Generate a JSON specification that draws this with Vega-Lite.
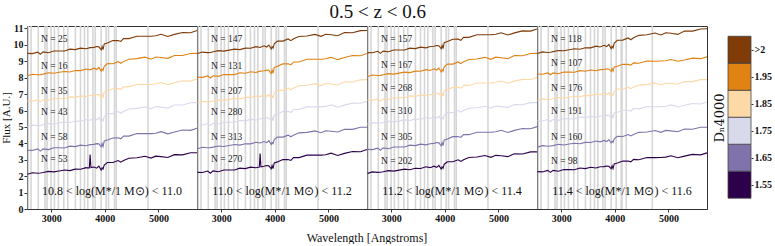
{
"$schema":"https://vega.github.io/schema/vega-lite/v6.json",
"padding":{"left":0,"top":3,"right":0,"bottom":0},
"title":{"text":"0.5 < z < 0.6","font":"Liberation Serif","fontSize":19,"fontWeight":"normal","anchor":"middle","offset":1,"dx":-8,"color":"#111"},
"config":{"font":"Liberation Serif","facet":{"spacing":0},"view":{"stroke":"#333"},"axis":{"labelFont":"Liberation Serif","labelFontWeight":"bold","labelFontSize":10,"labelColor":"#111","labelOverlap":false,"titleFont":"Liberation Serif","titleFontWeight":"normal","titleFontSize":11,"titleColor":"#111","grid":false,"tickSize":3,"tickColor":"#333","domainColor":"#333"}},
"spacing":3,
"hconcat":[
{
"data":{"values":[
{"p":1,"r":2575},{"p":1,"r":2625},{"p":1,"r":2761},{"p":1,"r":2886},{"p":1,"r":2924},{"p":1,"r":2999},{"p":1,"r":3061},{"p":1,"r":3136},{"p":1,"r":3236},{"p":1,"r":3311},{"p":1,"r":3453},{"p":1,"r":3547},{"p":1,"r":3622},{"p":1,"r":3684},{"p":1,"r":3778},{"p":1,"r":3821},{"p":1,"r":3933},{"p":1,"r":4026},{"p":1,"r":4070},{"p":1,"r":4182},{"p":1,"r":4214},{"p":1,"r":4806},
{"p":2,"r":2575},{"p":2,"r":2625},{"p":2,"r":2761},{"p":2,"r":2886},{"p":2,"r":2924},{"p":2,"r":2999},{"p":2,"r":3061},{"p":2,"r":3136},{"p":2,"r":3236},{"p":2,"r":3311},{"p":2,"r":3453},{"p":2,"r":3547},{"p":2,"r":3622},{"p":2,"r":3684},{"p":2,"r":3778},{"p":2,"r":3821},{"p":2,"r":3933},{"p":2,"r":4026},{"p":2,"r":4070},{"p":2,"r":4182},{"p":2,"r":4214},{"p":2,"r":4806},
{"p":3,"r":2575},{"p":3,"r":2625},{"p":3,"r":2761},{"p":3,"r":2886},{"p":3,"r":2924},{"p":3,"r":2999},{"p":3,"r":3061},{"p":3,"r":3136},{"p":3,"r":3236},{"p":3,"r":3311},{"p":3,"r":3453},{"p":3,"r":3547},{"p":3,"r":3622},{"p":3,"r":3684},{"p":3,"r":3778},{"p":3,"r":3821},{"p":3,"r":3933},{"p":3,"r":4026},{"p":3,"r":4070},{"p":3,"r":4182},{"p":3,"r":4214},{"p":3,"r":4806},
{"p":4,"r":2575},{"p":4,"r":2625},{"p":4,"r":2761},{"p":4,"r":2886},{"p":4,"r":2924},{"p":4,"r":2999},{"p":4,"r":3061},{"p":4,"r":3136},{"p":4,"r":3236},{"p":4,"r":3311},{"p":4,"r":3453},{"p":4,"r":3547},{"p":4,"r":3622},{"p":4,"r":3684},{"p":4,"r":3778},{"p":4,"r":3821},{"p":4,"r":3933},{"p":4,"r":4026},{"p":4,"r":4120},{"p":4,"r":4135},{"p":4,"r":4214},{"p":4,"r":4700},

{"p":1,"c":">2","w":2560,"f":9.48},{"p":1,"c":">2","w":2650,"f":9.47},{"p":1,"c":">2","w":2750,"f":9.56},{"p":1,"c":">2","w":2800,"f":9.43},{"p":1,"c":">2","w":2850,"f":9.57},{"p":1,"c":">2","w":2950,"f":9.52},{"p":1,"c":">2","w":3050,"f":9.63},{"p":1,"c":">2","w":3150,"f":9.63},{"p":1,"c":">2","w":3250,"f":9.63},{"p":1,"c":">2","w":3350,"f":9.74},{"p":1,"c":">2","w":3450,"f":9.71},{"p":1,"c":">2","w":3550,"f":9.80},{"p":1,"c":">2","w":3650,"f":9.76},{"p":1,"c":">2","w":3727,"f":9.83},{"p":1,"c":">2","w":3800,"f":9.85},{"p":1,"c":">2","w":3850,"f":9.90},{"p":1,"c":">2","w":3890,"f":9.88},{"p":1,"c":">2","w":3934,"f":9.70},{"p":1,"c":">2","w":3950,"f":9.90},{"p":1,"c":">2","w":3968,"f":9.71},{"p":1,"c":">2","w":3990,"f":10.06},{"p":1,"c":">2","w":4050,"f":10.12},{"p":1,"c":">2","w":4150,"f":10.26},{"p":1,"c":">2","w":4250,"f":10.27},{"p":1,"c":">2","w":4300,"f":10.21},{"p":1,"c":">2","w":4350,"f":10.38},{"p":1,"c":">2","w":4450,"f":10.38},{"p":1,"c":">2","w":4600,"f":10.53},{"p":1,"c":">2","w":4750,"f":10.53},{"p":1,"c":">2","w":4861,"f":10.53},{"p":1,"c":">2","w":4950,"f":10.56},{"p":1,"c":">2","w":5050,"f":10.65},{"p":1,"c":">2","w":5175,"f":10.51},{"p":1,"c":">2","w":5300,"f":10.64},{"p":1,"c":">2","w":5450,"f":10.75},{"p":1,"c":">2","w":5600,"f":10.74},{"p":1,"c":">2","w":5720,"f":10.87},
{"p":1,"c":"1.95","w":2560,"f":8.12},{"p":1,"c":"1.95","w":2650,"f":8.21},{"p":1,"c":"1.95","w":2750,"f":8.18},{"p":1,"c":"1.95","w":2800,"f":8.19},{"p":1,"c":"1.95","w":2850,"f":8.22},{"p":1,"c":"1.95","w":2950,"f":8.30},{"p":1,"c":"1.95","w":3050,"f":8.27},{"p":1,"c":"1.95","w":3150,"f":8.33},{"p":1,"c":"1.95","w":3250,"f":8.38},{"p":1,"c":"1.95","w":3350,"f":8.35},{"p":1,"c":"1.95","w":3450,"f":8.44},{"p":1,"c":"1.95","w":3550,"f":8.43},{"p":1,"c":"1.95","w":3650,"f":8.53},{"p":1,"c":"1.95","w":3727,"f":8.48},{"p":1,"c":"1.95","w":3800,"f":8.58},{"p":1,"c":"1.95","w":3850,"f":8.50},{"p":1,"c":"1.95","w":3890,"f":8.63},{"p":1,"c":"1.95","w":3934,"f":8.39},{"p":1,"c":"1.95","w":3950,"f":8.53},{"p":1,"c":"1.95","w":3968,"f":8.44},{"p":1,"c":"1.95","w":3990,"f":8.70},{"p":1,"c":"1.95","w":4050,"f":8.86},{"p":1,"c":"1.95","w":4150,"f":8.85},{"p":1,"c":"1.95","w":4250,"f":8.98},{"p":1,"c":"1.95","w":4300,"f":8.88},{"p":1,"c":"1.95","w":4350,"f":8.98},{"p":1,"c":"1.95","w":4450,"f":9.12},{"p":1,"c":"1.95","w":4600,"f":9.16},{"p":1,"c":"1.95","w":4750,"f":9.25},{"p":1,"c":"1.95","w":4861,"f":9.13},{"p":1,"c":"1.95","w":4950,"f":9.26},{"p":1,"c":"1.95","w":5050,"f":9.23},{"p":1,"c":"1.95","w":5175,"f":9.18},{"p":1,"c":"1.95","w":5300,"f":9.35},{"p":1,"c":"1.95","w":5450,"f":9.35},{"p":1,"c":"1.95","w":5600,"f":9.47},{"p":1,"c":"1.95","w":5720,"f":9.48},
{"p":1,"c":"1.85","w":2560,"f":6.58},{"p":1,"c":"1.85","w":2650,"f":6.57},{"p":1,"c":"1.85","w":2750,"f":6.66},{"p":1,"c":"1.85","w":2800,"f":6.53},{"p":1,"c":"1.85","w":2850,"f":6.66},{"p":1,"c":"1.85","w":2950,"f":6.62},{"p":1,"c":"1.85","w":3050,"f":6.73},{"p":1,"c":"1.85","w":3150,"f":6.73},{"p":1,"c":"1.85","w":3250,"f":6.72},{"p":1,"c":"1.85","w":3350,"f":6.83},{"p":1,"c":"1.85","w":3450,"f":6.80},{"p":1,"c":"1.85","w":3550,"f":6.89},{"p":1,"c":"1.85","w":3650,"f":6.85},{"p":1,"c":"1.85","w":3727,"f":6.92},{"p":1,"c":"1.85","w":3800,"f":6.94},{"p":1,"c":"1.85","w":3850,"f":6.98},{"p":1,"c":"1.85","w":3890,"f":6.97},{"p":1,"c":"1.85","w":3934,"f":6.79},{"p":1,"c":"1.85","w":3950,"f":6.99},{"p":1,"c":"1.85","w":3968,"f":6.80},{"p":1,"c":"1.85","w":3990,"f":7.14},{"p":1,"c":"1.85","w":4050,"f":7.20},{"p":1,"c":"1.85","w":4150,"f":7.33},{"p":1,"c":"1.85","w":4250,"f":7.34},{"p":1,"c":"1.85","w":4300,"f":7.28},{"p":1,"c":"1.85","w":4350,"f":7.44},{"p":1,"c":"1.85","w":4450,"f":7.44},{"p":1,"c":"1.85","w":4600,"f":7.60},{"p":1,"c":"1.85","w":4750,"f":7.59},{"p":1,"c":"1.85","w":4861,"f":7.59},{"p":1,"c":"1.85","w":4950,"f":7.62},{"p":1,"c":"1.85","w":5050,"f":7.71},{"p":1,"c":"1.85","w":5175,"f":7.58},{"p":1,"c":"1.85","w":5300,"f":7.69},{"p":1,"c":"1.85","w":5450,"f":7.81},{"p":1,"c":"1.85","w":5600,"f":7.79},{"p":1,"c":"1.85","w":5720,"f":7.92},
{"p":1,"c":"1.75","w":2560,"f":5.02},{"p":1,"c":"1.75","w":2650,"f":5.11},{"p":1,"c":"1.75","w":2750,"f":5.08},{"p":1,"c":"1.75","w":2800,"f":5.09},{"p":1,"c":"1.75","w":2850,"f":5.13},{"p":1,"c":"1.75","w":2950,"f":5.21},{"p":1,"c":"1.75","w":3050,"f":5.18},{"p":1,"c":"1.75","w":3150,"f":5.24},{"p":1,"c":"1.75","w":3250,"f":5.30},{"p":1,"c":"1.75","w":3350,"f":5.27},{"p":1,"c":"1.75","w":3450,"f":5.36},{"p":1,"c":"1.75","w":3550,"f":5.35},{"p":1,"c":"1.75","w":3650,"f":5.45},{"p":1,"c":"1.75","w":3727,"f":5.41},{"p":1,"c":"1.75","w":3800,"f":5.51},{"p":1,"c":"1.75","w":3850,"f":5.43},{"p":1,"c":"1.75","w":3890,"f":5.56},{"p":1,"c":"1.75","w":3934,"f":5.31},{"p":1,"c":"1.75","w":3950,"f":5.46},{"p":1,"c":"1.75","w":3968,"f":5.36},{"p":1,"c":"1.75","w":3990,"f":5.64},{"p":1,"c":"1.75","w":4050,"f":5.81},{"p":1,"c":"1.75","w":4150,"f":5.81},{"p":1,"c":"1.75","w":4250,"f":5.94},{"p":1,"c":"1.75","w":4300,"f":5.83},{"p":1,"c":"1.75","w":4350,"f":5.95},{"p":1,"c":"1.75","w":4450,"f":6.09},{"p":1,"c":"1.75","w":4600,"f":6.13},{"p":1,"c":"1.75","w":4750,"f":6.23},{"p":1,"c":"1.75","w":4861,"f":6.11},{"p":1,"c":"1.75","w":4950,"f":6.24},{"p":1,"c":"1.75","w":5050,"f":6.21},{"p":1,"c":"1.75","w":5175,"f":6.15},{"p":1,"c":"1.75","w":5300,"f":6.34},{"p":1,"c":"1.75","w":5450,"f":6.34},{"p":1,"c":"1.75","w":5600,"f":6.47},{"p":1,"c":"1.75","w":5720,"f":6.48},
{"p":1,"c":"1.65","w":2560,"f":3.58},{"p":1,"c":"1.65","w":2650,"f":3.57},{"p":1,"c":"1.65","w":2750,"f":3.66},{"p":1,"c":"1.65","w":2800,"f":3.53},{"p":1,"c":"1.65","w":2850,"f":3.66},{"p":1,"c":"1.65","w":2950,"f":3.62},{"p":1,"c":"1.65","w":3050,"f":3.73},{"p":1,"c":"1.65","w":3150,"f":3.73},{"p":1,"c":"1.65","w":3250,"f":3.72},{"p":1,"c":"1.65","w":3350,"f":3.83},{"p":1,"c":"1.65","w":3450,"f":3.80},{"p":1,"c":"1.65","w":3550,"f":3.89},{"p":1,"c":"1.65","w":3650,"f":3.85},{"p":1,"c":"1.65","w":3727,"f":3.92},{"p":1,"c":"1.65","w":3800,"f":3.94},{"p":1,"c":"1.65","w":3850,"f":3.98},{"p":1,"c":"1.65","w":3890,"f":3.97},{"p":1,"c":"1.65","w":3934,"f":3.79},{"p":1,"c":"1.65","w":3950,"f":3.99},{"p":1,"c":"1.65","w":3968,"f":3.80},{"p":1,"c":"1.65","w":3990,"f":4.14},{"p":1,"c":"1.65","w":4050,"f":4.20},{"p":1,"c":"1.65","w":4150,"f":4.33},{"p":1,"c":"1.65","w":4250,"f":4.34},{"p":1,"c":"1.65","w":4300,"f":4.28},{"p":1,"c":"1.65","w":4350,"f":4.44},{"p":1,"c":"1.65","w":4450,"f":4.44},{"p":1,"c":"1.65","w":4600,"f":4.60},{"p":1,"c":"1.65","w":4750,"f":4.59},{"p":1,"c":"1.65","w":4861,"f":4.59},{"p":1,"c":"1.65","w":4950,"f":4.62},{"p":1,"c":"1.65","w":5050,"f":4.71},{"p":1,"c":"1.65","w":5175,"f":4.58},{"p":1,"c":"1.65","w":5300,"f":4.69},{"p":1,"c":"1.65","w":5450,"f":4.81},{"p":1,"c":"1.65","w":5600,"f":4.79},{"p":1,"c":"1.65","w":5720,"f":4.92},
{"p":1,"c":"1.55","w":2560,"f":2.12},{"p":1,"c":"1.55","w":2650,"f":2.21},{"p":1,"c":"1.55","w":2750,"f":2.18},{"p":1,"c":"1.55","w":2800,"f":2.19},{"p":1,"c":"1.55","w":2850,"f":2.22},{"p":1,"c":"1.55","w":2950,"f":2.29},{"p":1,"c":"1.55","w":3050,"f":2.26},{"p":1,"c":"1.55","w":3150,"f":2.32},{"p":1,"c":"1.55","w":3250,"f":2.38},{"p":1,"c":"1.55","w":3350,"f":2.34},{"p":1,"c":"1.55","w":3450,"f":2.43},{"p":1,"c":"1.55","w":3550,"f":2.42},{"p":1,"c":"1.55","w":3650,"f":2.52},{"p":1,"c":"1.55","w":3712,"f":2.50},{"p":1,"c":"1.55","w":3727,"f":3.32},{"p":1,"c":"1.55","w":3742,"f":2.52},{"p":1,"c":"1.55","w":3800,"f":2.56},{"p":1,"c":"1.55","w":3850,"f":2.49},{"p":1,"c":"1.55","w":3890,"f":2.61},{"p":1,"c":"1.55","w":3934,"f":2.38},{"p":1,"c":"1.55","w":3950,"f":2.51},{"p":1,"c":"1.55","w":3968,"f":2.43},{"p":1,"c":"1.55","w":3990,"f":2.68},{"p":1,"c":"1.55","w":4050,"f":2.83},{"p":1,"c":"1.55","w":4150,"f":2.83},{"p":1,"c":"1.55","w":4250,"f":2.95},{"p":1,"c":"1.55","w":4300,"f":2.85},{"p":1,"c":"1.55","w":4350,"f":2.95},{"p":1,"c":"1.55","w":4450,"f":3.09},{"p":1,"c":"1.55","w":4600,"f":3.12},{"p":1,"c":"1.55","w":4750,"f":3.21},{"p":1,"c":"1.55","w":4861,"f":3.10},{"p":1,"c":"1.55","w":4950,"f":3.22},{"p":1,"c":"1.55","w":5050,"f":3.19},{"p":1,"c":"1.55","w":5175,"f":3.14},{"p":1,"c":"1.55","w":5300,"f":3.31},{"p":1,"c":"1.55","w":5450,"f":3.30},{"p":1,"c":"1.55","w":5600,"f":3.43},{"p":1,"c":"1.55","w":5720,"f":3.43},

{"p":2,"c":">2","w":2560,"f":9.47},{"p":2,"c":">2","w":2650,"f":9.56},{"p":2,"c":">2","w":2750,"f":9.53},{"p":2,"c":">2","w":2800,"f":9.54},{"p":2,"c":">2","w":2850,"f":9.58},{"p":2,"c":">2","w":2950,"f":9.65},{"p":2,"c":">2","w":3050,"f":9.62},{"p":2,"c":">2","w":3150,"f":9.68},{"p":2,"c":">2","w":3250,"f":9.74},{"p":2,"c":">2","w":3350,"f":9.71},{"p":2,"c":">2","w":3450,"f":9.80},{"p":2,"c":">2","w":3550,"f":9.79},{"p":2,"c":">2","w":3650,"f":9.89},{"p":2,"c":">2","w":3727,"f":9.84},{"p":2,"c":">2","w":3800,"f":9.94},{"p":2,"c":">2","w":3850,"f":9.87},{"p":2,"c":">2","w":3890,"f":9.99},{"p":2,"c":">2","w":3934,"f":9.75},{"p":2,"c":">2","w":3950,"f":9.89},{"p":2,"c":">2","w":3968,"f":9.80},{"p":2,"c":">2","w":3990,"f":10.07},{"p":2,"c":">2","w":4050,"f":10.23},{"p":2,"c":">2","w":4150,"f":10.23},{"p":2,"c":">2","w":4250,"f":10.36},{"p":2,"c":">2","w":4300,"f":10.26},{"p":2,"c":">2","w":4350,"f":10.37},{"p":2,"c":">2","w":4450,"f":10.51},{"p":2,"c":">2","w":4600,"f":10.54},{"p":2,"c":">2","w":4750,"f":10.64},{"p":2,"c":">2","w":4861,"f":10.52},{"p":2,"c":">2","w":4950,"f":10.65},{"p":2,"c":">2","w":5050,"f":10.62},{"p":2,"c":">2","w":5175,"f":10.56},{"p":2,"c":">2","w":5300,"f":10.75},{"p":2,"c":">2","w":5450,"f":10.74},{"p":2,"c":">2","w":5600,"f":10.87},{"p":2,"c":">2","w":5720,"f":10.88},
{"p":2,"c":"1.95","w":2560,"f":8.03},{"p":2,"c":"1.95","w":2650,"f":8.02},{"p":2,"c":"1.95","w":2750,"f":8.11},{"p":2,"c":"1.95","w":2800,"f":7.98},{"p":2,"c":"1.95","w":2850,"f":8.12},{"p":2,"c":"1.95","w":2950,"f":8.08},{"p":2,"c":"1.95","w":3050,"f":8.19},{"p":2,"c":"1.95","w":3150,"f":8.19},{"p":2,"c":"1.95","w":3250,"f":8.19},{"p":2,"c":"1.95","w":3350,"f":8.30},{"p":2,"c":"1.95","w":3450,"f":8.27},{"p":2,"c":"1.95","w":3550,"f":8.36},{"p":2,"c":"1.95","w":3650,"f":8.32},{"p":2,"c":"1.95","w":3727,"f":8.40},{"p":2,"c":"1.95","w":3800,"f":8.42},{"p":2,"c":"1.95","w":3850,"f":8.46},{"p":2,"c":"1.95","w":3890,"f":8.45},{"p":2,"c":"1.95","w":3934,"f":8.26},{"p":2,"c":"1.95","w":3950,"f":8.47},{"p":2,"c":"1.95","w":3968,"f":8.27},{"p":2,"c":"1.95","w":3990,"f":8.63},{"p":2,"c":"1.95","w":4050,"f":8.70},{"p":2,"c":"1.95","w":4150,"f":8.84},{"p":2,"c":"1.95","w":4250,"f":8.85},{"p":2,"c":"1.95","w":4300,"f":8.78},{"p":2,"c":"1.95","w":4350,"f":8.96},{"p":2,"c":"1.95","w":4450,"f":8.96},{"p":2,"c":"1.95","w":4600,"f":9.12},{"p":2,"c":"1.95","w":4750,"f":9.12},{"p":2,"c":"1.95","w":4861,"f":9.12},{"p":2,"c":"1.95","w":4950,"f":9.15},{"p":2,"c":"1.95","w":5050,"f":9.24},{"p":2,"c":"1.95","w":5175,"f":9.10},{"p":2,"c":"1.95","w":5300,"f":9.23},{"p":2,"c":"1.95","w":5450,"f":9.35},{"p":2,"c":"1.95","w":5600,"f":9.34},{"p":2,"c":"1.95","w":5720,"f":9.47},
{"p":2,"c":"1.85","w":2560,"f":6.47},{"p":2,"c":"1.85","w":2650,"f":6.56},{"p":2,"c":"1.85","w":2750,"f":6.53},{"p":2,"c":"1.85","w":2800,"f":6.54},{"p":2,"c":"1.85","w":2850,"f":6.58},{"p":2,"c":"1.85","w":2950,"f":6.65},{"p":2,"c":"1.85","w":3050,"f":6.62},{"p":2,"c":"1.85","w":3150,"f":6.68},{"p":2,"c":"1.85","w":3250,"f":6.74},{"p":2,"c":"1.85","w":3350,"f":6.71},{"p":2,"c":"1.85","w":3450,"f":6.80},{"p":2,"c":"1.85","w":3550,"f":6.79},{"p":2,"c":"1.85","w":3650,"f":6.89},{"p":2,"c":"1.85","w":3727,"f":6.84},{"p":2,"c":"1.85","w":3800,"f":6.94},{"p":2,"c":"1.85","w":3850,"f":6.87},{"p":2,"c":"1.85","w":3890,"f":6.99},{"p":2,"c":"1.85","w":3934,"f":6.75},{"p":2,"c":"1.85","w":3950,"f":6.89},{"p":2,"c":"1.85","w":3968,"f":6.80},{"p":2,"c":"1.85","w":3990,"f":7.07},{"p":2,"c":"1.85","w":4050,"f":7.23},{"p":2,"c":"1.85","w":4150,"f":7.23},{"p":2,"c":"1.85","w":4250,"f":7.36},{"p":2,"c":"1.85","w":4300,"f":7.26},{"p":2,"c":"1.85","w":4350,"f":7.37},{"p":2,"c":"1.85","w":4450,"f":7.51},{"p":2,"c":"1.85","w":4600,"f":7.54},{"p":2,"c":"1.85","w":4750,"f":7.64},{"p":2,"c":"1.85","w":4861,"f":7.52},{"p":2,"c":"1.85","w":4950,"f":7.65},{"p":2,"c":"1.85","w":5050,"f":7.62},{"p":2,"c":"1.85","w":5175,"f":7.56},{"p":2,"c":"1.85","w":5300,"f":7.75},{"p":2,"c":"1.85","w":5450,"f":7.74},{"p":2,"c":"1.85","w":5600,"f":7.87},{"p":2,"c":"1.85","w":5720,"f":7.88},
{"p":2,"c":"1.75","w":2560,"f":5.13},{"p":2,"c":"1.75","w":2650,"f":5.12},{"p":2,"c":"1.75","w":2750,"f":5.21},{"p":2,"c":"1.75","w":2800,"f":5.08},{"p":2,"c":"1.75","w":2850,"f":5.22},{"p":2,"c":"1.75","w":2950,"f":5.18},{"p":2,"c":"1.75","w":3050,"f":5.29},{"p":2,"c":"1.75","w":3150,"f":5.29},{"p":2,"c":"1.75","w":3250,"f":5.29},{"p":2,"c":"1.75","w":3350,"f":5.40},{"p":2,"c":"1.75","w":3450,"f":5.37},{"p":2,"c":"1.75","w":3550,"f":5.46},{"p":2,"c":"1.75","w":3650,"f":5.42},{"p":2,"c":"1.75","w":3727,"f":5.50},{"p":2,"c":"1.75","w":3800,"f":5.52},{"p":2,"c":"1.75","w":3850,"f":5.56},{"p":2,"c":"1.75","w":3890,"f":5.55},{"p":2,"c":"1.75","w":3934,"f":5.36},{"p":2,"c":"1.75","w":3950,"f":5.57},{"p":2,"c":"1.75","w":3968,"f":5.37},{"p":2,"c":"1.75","w":3990,"f":5.73},{"p":2,"c":"1.75","w":4050,"f":5.80},{"p":2,"c":"1.75","w":4150,"f":5.94},{"p":2,"c":"1.75","w":4250,"f":5.95},{"p":2,"c":"1.75","w":4300,"f":5.88},{"p":2,"c":"1.75","w":4350,"f":6.06},{"p":2,"c":"1.75","w":4450,"f":6.06},{"p":2,"c":"1.75","w":4600,"f":6.22},{"p":2,"c":"1.75","w":4750,"f":6.22},{"p":2,"c":"1.75","w":4861,"f":6.22},{"p":2,"c":"1.75","w":4950,"f":6.25},{"p":2,"c":"1.75","w":5050,"f":6.34},{"p":2,"c":"1.75","w":5175,"f":6.20},{"p":2,"c":"1.75","w":5300,"f":6.33},{"p":2,"c":"1.75","w":5450,"f":6.45},{"p":2,"c":"1.75","w":5600,"f":6.44},{"p":2,"c":"1.75","w":5720,"f":6.57},
{"p":2,"c":"1.65","w":2560,"f":3.67},{"p":2,"c":"1.65","w":2650,"f":3.76},{"p":2,"c":"1.65","w":2750,"f":3.73},{"p":2,"c":"1.65","w":2800,"f":3.74},{"p":2,"c":"1.65","w":2850,"f":3.77},{"p":2,"c":"1.65","w":2950,"f":3.84},{"p":2,"c":"1.65","w":3050,"f":3.81},{"p":2,"c":"1.65","w":3150,"f":3.87},{"p":2,"c":"1.65","w":3250,"f":3.93},{"p":2,"c":"1.65","w":3350,"f":3.89},{"p":2,"c":"1.65","w":3450,"f":3.98},{"p":2,"c":"1.65","w":3550,"f":3.97},{"p":2,"c":"1.65","w":3650,"f":4.07},{"p":2,"c":"1.65","w":3727,"f":4.02},{"p":2,"c":"1.65","w":3800,"f":4.11},{"p":2,"c":"1.65","w":3850,"f":4.04},{"p":2,"c":"1.65","w":3890,"f":4.16},{"p":2,"c":"1.65","w":3934,"f":3.93},{"p":2,"c":"1.65","w":3950,"f":4.06},{"p":2,"c":"1.65","w":3968,"f":3.98},{"p":2,"c":"1.65","w":3990,"f":4.23},{"p":2,"c":"1.65","w":4050,"f":4.38},{"p":2,"c":"1.65","w":4150,"f":4.38},{"p":2,"c":"1.65","w":4250,"f":4.50},{"p":2,"c":"1.65","w":4300,"f":4.40},{"p":2,"c":"1.65","w":4350,"f":4.50},{"p":2,"c":"1.65","w":4450,"f":4.64},{"p":2,"c":"1.65","w":4600,"f":4.67},{"p":2,"c":"1.65","w":4750,"f":4.76},{"p":2,"c":"1.65","w":4861,"f":4.65},{"p":2,"c":"1.65","w":4950,"f":4.77},{"p":2,"c":"1.65","w":5050,"f":4.74},{"p":2,"c":"1.65","w":5175,"f":4.69},{"p":2,"c":"1.65","w":5300,"f":4.86},{"p":2,"c":"1.65","w":5450,"f":4.85},{"p":2,"c":"1.65","w":5600,"f":4.98},{"p":2,"c":"1.65","w":5720,"f":4.98},
{"p":2,"c":"1.55","w":2560,"f":2.23},{"p":2,"c":"1.55","w":2650,"f":2.22},{"p":2,"c":"1.55","w":2750,"f":2.31},{"p":2,"c":"1.55","w":2800,"f":2.18},{"p":2,"c":"1.55","w":2850,"f":2.32},{"p":2,"c":"1.55","w":2950,"f":2.27},{"p":2,"c":"1.55","w":3050,"f":2.38},{"p":2,"c":"1.55","w":3150,"f":2.38},{"p":2,"c":"1.55","w":3250,"f":2.38},{"p":2,"c":"1.55","w":3350,"f":2.49},{"p":2,"c":"1.55","w":3450,"f":2.46},{"p":2,"c":"1.55","w":3550,"f":2.55},{"p":2,"c":"1.55","w":3650,"f":2.51},{"p":2,"c":"1.55","w":3712,"f":2.55},{"p":2,"c":"1.55","w":3727,"f":3.38},{"p":2,"c":"1.55","w":3742,"f":2.57},{"p":2,"c":"1.55","w":3800,"f":2.60},{"p":2,"c":"1.55","w":3850,"f":2.65},{"p":2,"c":"1.55","w":3890,"f":2.63},{"p":2,"c":"1.55","w":3934,"f":2.45},{"p":2,"c":"1.55","w":3950,"f":2.65},{"p":2,"c":"1.55","w":3968,"f":2.46},{"p":2,"c":"1.55","w":3990,"f":2.81},{"p":2,"c":"1.55","w":4050,"f":2.87},{"p":2,"c":"1.55","w":4150,"f":3.01},{"p":2,"c":"1.55","w":4250,"f":3.02},{"p":2,"c":"1.55","w":4300,"f":2.96},{"p":2,"c":"1.55","w":4350,"f":3.13},{"p":2,"c":"1.55","w":4450,"f":3.13},{"p":2,"c":"1.55","w":4600,"f":3.28},{"p":2,"c":"1.55","w":4750,"f":3.28},{"p":2,"c":"1.55","w":4861,"f":3.28},{"p":2,"c":"1.55","w":4950,"f":3.31},{"p":2,"c":"1.55","w":5050,"f":3.40},{"p":2,"c":"1.55","w":5175,"f":3.26},{"p":2,"c":"1.55","w":5300,"f":3.39},{"p":2,"c":"1.55","w":5450,"f":3.50},{"p":2,"c":"1.55","w":5600,"f":3.49},{"p":2,"c":"1.55","w":5720,"f":3.62},

{"p":3,"c":">2","w":2560,"f":9.53},{"p":3,"c":">2","w":2650,"f":9.52},{"p":3,"c":">2","w":2750,"f":9.61},{"p":3,"c":">2","w":2800,"f":9.48},{"p":3,"c":">2","w":2850,"f":9.62},{"p":3,"c":">2","w":2950,"f":9.58},{"p":3,"c":">2","w":3050,"f":9.69},{"p":3,"c":">2","w":3150,"f":9.69},{"p":3,"c":">2","w":3250,"f":9.69},{"p":3,"c":">2","w":3350,"f":9.80},{"p":3,"c":">2","w":3450,"f":9.77},{"p":3,"c":">2","w":3550,"f":9.86},{"p":3,"c":">2","w":3650,"f":9.82},{"p":3,"c":">2","w":3727,"f":9.90},{"p":3,"c":">2","w":3800,"f":9.92},{"p":3,"c":">2","w":3850,"f":9.96},{"p":3,"c":">2","w":3890,"f":9.95},{"p":3,"c":">2","w":3934,"f":9.76},{"p":3,"c":">2","w":3950,"f":9.97},{"p":3,"c":">2","w":3968,"f":9.77},{"p":3,"c":">2","w":3990,"f":10.13},{"p":3,"c":">2","w":4050,"f":10.20},{"p":3,"c":">2","w":4150,"f":10.34},{"p":3,"c":">2","w":4250,"f":10.35},{"p":3,"c":">2","w":4300,"f":10.28},{"p":3,"c":">2","w":4350,"f":10.46},{"p":3,"c":">2","w":4450,"f":10.46},{"p":3,"c":">2","w":4600,"f":10.62},{"p":3,"c":">2","w":4750,"f":10.62},{"p":3,"c":">2","w":4861,"f":10.62},{"p":3,"c":">2","w":4950,"f":10.65},{"p":3,"c":">2","w":5050,"f":10.74},{"p":3,"c":">2","w":5175,"f":10.60},{"p":3,"c":">2","w":5300,"f":10.73},{"p":3,"c":">2","w":5450,"f":10.85},{"p":3,"c":">2","w":5600,"f":10.84},{"p":3,"c":">2","w":5720,"f":10.97},
{"p":3,"c":"1.95","w":2560,"f":8.07},{"p":3,"c":"1.95","w":2650,"f":8.16},{"p":3,"c":"1.95","w":2750,"f":8.13},{"p":3,"c":"1.95","w":2800,"f":8.14},{"p":3,"c":"1.95","w":2850,"f":8.18},{"p":3,"c":"1.95","w":2950,"f":8.25},{"p":3,"c":"1.95","w":3050,"f":8.22},{"p":3,"c":"1.95","w":3150,"f":8.28},{"p":3,"c":"1.95","w":3250,"f":8.34},{"p":3,"c":"1.95","w":3350,"f":8.31},{"p":3,"c":"1.95","w":3450,"f":8.40},{"p":3,"c":"1.95","w":3550,"f":8.39},{"p":3,"c":"1.95","w":3650,"f":8.49},{"p":3,"c":"1.95","w":3727,"f":8.44},{"p":3,"c":"1.95","w":3800,"f":8.54},{"p":3,"c":"1.95","w":3850,"f":8.47},{"p":3,"c":"1.95","w":3890,"f":8.59},{"p":3,"c":"1.95","w":3934,"f":8.35},{"p":3,"c":"1.95","w":3950,"f":8.49},{"p":3,"c":"1.95","w":3968,"f":8.40},{"p":3,"c":"1.95","w":3990,"f":8.67},{"p":3,"c":"1.95","w":4050,"f":8.83},{"p":3,"c":"1.95","w":4150,"f":8.83},{"p":3,"c":"1.95","w":4250,"f":8.96},{"p":3,"c":"1.95","w":4300,"f":8.86},{"p":3,"c":"1.95","w":4350,"f":8.97},{"p":3,"c":"1.95","w":4450,"f":9.11},{"p":3,"c":"1.95","w":4600,"f":9.14},{"p":3,"c":"1.95","w":4750,"f":9.24},{"p":3,"c":"1.95","w":4861,"f":9.12},{"p":3,"c":"1.95","w":4950,"f":9.25},{"p":3,"c":"1.95","w":5050,"f":9.22},{"p":3,"c":"1.95","w":5175,"f":9.16},{"p":3,"c":"1.95","w":5300,"f":9.35},{"p":3,"c":"1.95","w":5450,"f":9.34},{"p":3,"c":"1.95","w":5600,"f":9.47},{"p":3,"c":"1.95","w":5720,"f":9.48},
{"p":3,"c":"1.85","w":2560,"f":6.63},{"p":3,"c":"1.85","w":2650,"f":6.62},{"p":3,"c":"1.85","w":2750,"f":6.71},{"p":3,"c":"1.85","w":2800,"f":6.58},{"p":3,"c":"1.85","w":2850,"f":6.72},{"p":3,"c":"1.85","w":2950,"f":6.67},{"p":3,"c":"1.85","w":3050,"f":6.78},{"p":3,"c":"1.85","w":3150,"f":6.78},{"p":3,"c":"1.85","w":3250,"f":6.78},{"p":3,"c":"1.85","w":3350,"f":6.89},{"p":3,"c":"1.85","w":3450,"f":6.86},{"p":3,"c":"1.85","w":3550,"f":6.95},{"p":3,"c":"1.85","w":3650,"f":6.91},{"p":3,"c":"1.85","w":3727,"f":6.98},{"p":3,"c":"1.85","w":3800,"f":7.00},{"p":3,"c":"1.85","w":3850,"f":7.05},{"p":3,"c":"1.85","w":3890,"f":7.03},{"p":3,"c":"1.85","w":3934,"f":6.85},{"p":3,"c":"1.85","w":3950,"f":7.05},{"p":3,"c":"1.85","w":3968,"f":6.86},{"p":3,"c":"1.85","w":3990,"f":7.21},{"p":3,"c":"1.85","w":4050,"f":7.27},{"p":3,"c":"1.85","w":4150,"f":7.41},{"p":3,"c":"1.85","w":4250,"f":7.42},{"p":3,"c":"1.85","w":4300,"f":7.36},{"p":3,"c":"1.85","w":4350,"f":7.53},{"p":3,"c":"1.85","w":4450,"f":7.53},{"p":3,"c":"1.85","w":4600,"f":7.68},{"p":3,"c":"1.85","w":4750,"f":7.68},{"p":3,"c":"1.85","w":4861,"f":7.68},{"p":3,"c":"1.85","w":4950,"f":7.71},{"p":3,"c":"1.85","w":5050,"f":7.80},{"p":3,"c":"1.85","w":5175,"f":7.66},{"p":3,"c":"1.85","w":5300,"f":7.79},{"p":3,"c":"1.85","w":5450,"f":7.90},{"p":3,"c":"1.85","w":5600,"f":7.89},{"p":3,"c":"1.85","w":5720,"f":8.02},
{"p":3,"c":"1.75","w":2560,"f":5.17},{"p":3,"c":"1.75","w":2650,"f":5.26},{"p":3,"c":"1.75","w":2750,"f":5.23},{"p":3,"c":"1.75","w":2800,"f":5.24},{"p":3,"c":"1.75","w":2850,"f":5.27},{"p":3,"c":"1.75","w":2950,"f":5.34},{"p":3,"c":"1.75","w":3050,"f":5.31},{"p":3,"c":"1.75","w":3150,"f":5.37},{"p":3,"c":"1.75","w":3250,"f":5.43},{"p":3,"c":"1.75","w":3350,"f":5.39},{"p":3,"c":"1.75","w":3450,"f":5.48},{"p":3,"c":"1.75","w":3550,"f":5.47},{"p":3,"c":"1.75","w":3650,"f":5.57},{"p":3,"c":"1.75","w":3727,"f":5.52},{"p":3,"c":"1.75","w":3800,"f":5.61},{"p":3,"c":"1.75","w":3850,"f":5.54},{"p":3,"c":"1.75","w":3890,"f":5.66},{"p":3,"c":"1.75","w":3934,"f":5.43},{"p":3,"c":"1.75","w":3950,"f":5.56},{"p":3,"c":"1.75","w":3968,"f":5.48},{"p":3,"c":"1.75","w":3990,"f":5.73},{"p":3,"c":"1.75","w":4050,"f":5.88},{"p":3,"c":"1.75","w":4150,"f":5.88},{"p":3,"c":"1.75","w":4250,"f":6.00},{"p":3,"c":"1.75","w":4300,"f":5.90},{"p":3,"c":"1.75","w":4350,"f":6.00},{"p":3,"c":"1.75","w":4450,"f":6.14},{"p":3,"c":"1.75","w":4600,"f":6.17},{"p":3,"c":"1.75","w":4750,"f":6.26},{"p":3,"c":"1.75","w":4861,"f":6.15},{"p":3,"c":"1.75","w":4950,"f":6.27},{"p":3,"c":"1.75","w":5050,"f":6.24},{"p":3,"c":"1.75","w":5175,"f":6.19},{"p":3,"c":"1.75","w":5300,"f":6.36},{"p":3,"c":"1.75","w":5450,"f":6.35},{"p":3,"c":"1.75","w":5600,"f":6.48},{"p":3,"c":"1.75","w":5720,"f":6.48},
{"p":3,"c":"1.65","w":2560,"f":3.63},{"p":3,"c":"1.65","w":2650,"f":3.62},{"p":3,"c":"1.65","w":2750,"f":3.71},{"p":3,"c":"1.65","w":2800,"f":3.58},{"p":3,"c":"1.65","w":2850,"f":3.72},{"p":3,"c":"1.65","w":2950,"f":3.67},{"p":3,"c":"1.65","w":3050,"f":3.78},{"p":3,"c":"1.65","w":3150,"f":3.78},{"p":3,"c":"1.65","w":3250,"f":3.78},{"p":3,"c":"1.65","w":3350,"f":3.89},{"p":3,"c":"1.65","w":3450,"f":3.86},{"p":3,"c":"1.65","w":3550,"f":3.95},{"p":3,"c":"1.65","w":3650,"f":3.91},{"p":3,"c":"1.65","w":3727,"f":3.98},{"p":3,"c":"1.65","w":3800,"f":4.00},{"p":3,"c":"1.65","w":3850,"f":4.05},{"p":3,"c":"1.65","w":3890,"f":4.03},{"p":3,"c":"1.65","w":3934,"f":3.85},{"p":3,"c":"1.65","w":3950,"f":4.05},{"p":3,"c":"1.65","w":3968,"f":3.86},{"p":3,"c":"1.65","w":3990,"f":4.21},{"p":3,"c":"1.65","w":4050,"f":4.27},{"p":3,"c":"1.65","w":4150,"f":4.41},{"p":3,"c":"1.65","w":4250,"f":4.42},{"p":3,"c":"1.65","w":4300,"f":4.36},{"p":3,"c":"1.65","w":4350,"f":4.53},{"p":3,"c":"1.65","w":4450,"f":4.53},{"p":3,"c":"1.65","w":4600,"f":4.68},{"p":3,"c":"1.65","w":4750,"f":4.68},{"p":3,"c":"1.65","w":4861,"f":4.68},{"p":3,"c":"1.65","w":4950,"f":4.71},{"p":3,"c":"1.65","w":5050,"f":4.80},{"p":3,"c":"1.65","w":5175,"f":4.66},{"p":3,"c":"1.65","w":5300,"f":4.79},{"p":3,"c":"1.65","w":5450,"f":4.90},{"p":3,"c":"1.65","w":5600,"f":4.89},{"p":3,"c":"1.65","w":5720,"f":5.02},
{"p":3,"c":"1.55","w":2560,"f":2.17},{"p":3,"c":"1.55","w":2650,"f":2.26},{"p":3,"c":"1.55","w":2750,"f":2.23},{"p":3,"c":"1.55","w":2800,"f":2.24},{"p":3,"c":"1.55","w":2850,"f":2.27},{"p":3,"c":"1.55","w":2950,"f":2.34},{"p":3,"c":"1.55","w":3050,"f":2.31},{"p":3,"c":"1.55","w":3150,"f":2.37},{"p":3,"c":"1.55","w":3250,"f":2.43},{"p":3,"c":"1.55","w":3350,"f":2.39},{"p":3,"c":"1.55","w":3450,"f":2.48},{"p":3,"c":"1.55","w":3550,"f":2.47},{"p":3,"c":"1.55","w":3650,"f":2.57},{"p":3,"c":"1.55","w":3727,"f":2.52},{"p":3,"c":"1.55","w":3800,"f":2.61},{"p":3,"c":"1.55","w":3850,"f":2.54},{"p":3,"c":"1.55","w":3890,"f":2.66},{"p":3,"c":"1.55","w":3934,"f":2.43},{"p":3,"c":"1.55","w":3950,"f":2.56},{"p":3,"c":"1.55","w":3968,"f":2.48},{"p":3,"c":"1.55","w":3990,"f":2.73},{"p":3,"c":"1.55","w":4050,"f":2.88},{"p":3,"c":"1.55","w":4150,"f":2.88},{"p":3,"c":"1.55","w":4250,"f":3.00},{"p":3,"c":"1.55","w":4300,"f":2.90},{"p":3,"c":"1.55","w":4350,"f":3.00},{"p":3,"c":"1.55","w":4450,"f":3.14},{"p":3,"c":"1.55","w":4600,"f":3.17},{"p":3,"c":"1.55","w":4750,"f":3.26},{"p":3,"c":"1.55","w":4861,"f":3.15},{"p":3,"c":"1.55","w":4950,"f":3.27},{"p":3,"c":"1.55","w":5050,"f":3.24},{"p":3,"c":"1.55","w":5175,"f":3.19},{"p":3,"c":"1.55","w":5300,"f":3.36},{"p":3,"c":"1.55","w":5450,"f":3.35},{"p":3,"c":"1.55","w":5600,"f":3.48},{"p":3,"c":"1.55","w":5720,"f":3.48},

{"p":4,"c":">2","w":2560,"f":9.47},{"p":4,"c":">2","w":2650,"f":9.57},{"p":4,"c":">2","w":2750,"f":9.54},{"p":4,"c":">2","w":2800,"f":9.55},{"p":4,"c":">2","w":2850,"f":9.59},{"p":4,"c":">2","w":2950,"f":9.66},{"p":4,"c":">2","w":3050,"f":9.64},{"p":4,"c":">2","w":3150,"f":9.70},{"p":4,"c":">2","w":3250,"f":9.76},{"p":4,"c":">2","w":3350,"f":9.73},{"p":4,"c":">2","w":3450,"f":9.82},{"p":4,"c":">2","w":3550,"f":9.82},{"p":4,"c":">2","w":3650,"f":9.92},{"p":4,"c":">2","w":3727,"f":9.87},{"p":4,"c":">2","w":3800,"f":9.97},{"p":4,"c":">2","w":3850,"f":9.90},{"p":4,"c":">2","w":3890,"f":10.03},{"p":4,"c":">2","w":3934,"f":9.77},{"p":4,"c":">2","w":3950,"f":9.92},{"p":4,"c":">2","w":3968,"f":9.82},{"p":4,"c":">2","w":3990,"f":10.11},{"p":4,"c":">2","w":4050,"f":10.28},{"p":4,"c":">2","w":4150,"f":10.29},{"p":4,"c":">2","w":4250,"f":10.42},{"p":4,"c":">2","w":4300,"f":10.31},{"p":4,"c":">2","w":4350,"f":10.43},{"p":4,"c":">2","w":4450,"f":10.58},{"p":4,"c":">2","w":4600,"f":10.62},{"p":4,"c":">2","w":4750,"f":10.72},{"p":4,"c":">2","w":4861,"f":10.60},{"p":4,"c":">2","w":4950,"f":10.74},{"p":4,"c":">2","w":5050,"f":10.71},{"p":4,"c":">2","w":5175,"f":10.64},{"p":4,"c":">2","w":5300,"f":10.84},{"p":4,"c":">2","w":5450,"f":10.84},{"p":4,"c":">2","w":5600,"f":10.97},{"p":4,"c":">2","w":5720,"f":10.98},
{"p":4,"c":"1.95","w":2560,"f":8.23},{"p":4,"c":"1.95","w":2650,"f":8.21},{"p":4,"c":"1.95","w":2750,"f":8.29},{"p":4,"c":"1.95","w":2800,"f":8.18},{"p":4,"c":"1.95","w":2850,"f":8.29},{"p":4,"c":"1.95","w":2950,"f":8.24},{"p":4,"c":"1.95","w":3050,"f":8.35},{"p":4,"c":"1.95","w":3150,"f":8.34},{"p":4,"c":"1.95","w":3250,"f":8.33},{"p":4,"c":"1.95","w":3350,"f":8.43},{"p":4,"c":"1.95","w":3450,"f":8.39},{"p":4,"c":"1.95","w":3550,"f":8.47},{"p":4,"c":"1.95","w":3650,"f":8.42},{"p":4,"c":"1.95","w":3727,"f":8.49},{"p":4,"c":"1.95","w":3800,"f":8.50},{"p":4,"c":"1.95","w":3850,"f":8.54},{"p":4,"c":"1.95","w":3890,"f":8.52},{"p":4,"c":"1.95","w":3934,"f":8.39},{"p":4,"c":"1.95","w":3950,"f":8.55},{"p":4,"c":"1.95","w":3968,"f":8.39},{"p":4,"c":"1.95","w":3990,"f":8.66},{"p":4,"c":"1.95","w":4050,"f":8.70},{"p":4,"c":"1.95","w":4150,"f":8.82},{"p":4,"c":"1.95","w":4250,"f":8.81},{"p":4,"c":"1.95","w":4300,"f":8.77},{"p":4,"c":"1.95","w":4350,"f":8.90},{"p":4,"c":"1.95","w":4450,"f":8.88},{"p":4,"c":"1.95","w":4600,"f":9.02},{"p":4,"c":"1.95","w":4750,"f":9.00},{"p":4,"c":"1.95","w":4861,"f":9.02},{"p":4,"c":"1.95","w":4950,"f":9.03},{"p":4,"c":"1.95","w":5050,"f":9.11},{"p":4,"c":"1.95","w":5175,"f":9.00},{"p":4,"c":"1.95","w":5300,"f":9.08},{"p":4,"c":"1.95","w":5450,"f":9.19},{"p":4,"c":"1.95","w":5600,"f":9.16},{"p":4,"c":"1.95","w":5720,"f":9.27},
{"p":4,"c":"1.85","w":2560,"f":6.62},{"p":4,"c":"1.85","w":2650,"f":6.71},{"p":4,"c":"1.85","w":2750,"f":6.67},{"p":4,"c":"1.85","w":2800,"f":6.69},{"p":4,"c":"1.85","w":2850,"f":6.72},{"p":4,"c":"1.85","w":2950,"f":6.79},{"p":4,"c":"1.85","w":3050,"f":6.76},{"p":4,"c":"1.85","w":3150,"f":6.81},{"p":4,"c":"1.85","w":3250,"f":6.87},{"p":4,"c":"1.85","w":3350,"f":6.84},{"p":4,"c":"1.85","w":3450,"f":6.92},{"p":4,"c":"1.85","w":3550,"f":6.91},{"p":4,"c":"1.85","w":3650,"f":7.00},{"p":4,"c":"1.85","w":3727,"f":6.96},{"p":4,"c":"1.85","w":3800,"f":7.05},{"p":4,"c":"1.85","w":3850,"f":6.97},{"p":4,"c":"1.85","w":3890,"f":7.09},{"p":4,"c":"1.85","w":3934,"f":6.88},{"p":4,"c":"1.85","w":3950,"f":7.00},{"p":4,"c":"1.85","w":3968,"f":6.92},{"p":4,"c":"1.85","w":3990,"f":7.16},{"p":4,"c":"1.85","w":4050,"f":7.31},{"p":4,"c":"1.85","w":4150,"f":7.30},{"p":4,"c":"1.85","w":4250,"f":7.42},{"p":4,"c":"1.85","w":4300,"f":7.33},{"p":4,"c":"1.85","w":4350,"f":7.42},{"p":4,"c":"1.85","w":4450,"f":7.55},{"p":4,"c":"1.85","w":4600,"f":7.58},{"p":4,"c":"1.85","w":4750,"f":7.67},{"p":4,"c":"1.85","w":4861,"f":7.56},{"p":4,"c":"1.85","w":4950,"f":7.68},{"p":4,"c":"1.85","w":5050,"f":7.65},{"p":4,"c":"1.85","w":5175,"f":7.60},{"p":4,"c":"1.85","w":5300,"f":7.77},{"p":4,"c":"1.85","w":5450,"f":7.76},{"p":4,"c":"1.85","w":5600,"f":7.88},{"p":4,"c":"1.85","w":5720,"f":7.88},
{"p":4,"c":"1.75","w":2560,"f":5.38},{"p":4,"c":"1.75","w":2650,"f":5.36},{"p":4,"c":"1.75","w":2750,"f":5.45},{"p":4,"c":"1.75","w":2800,"f":5.33},{"p":4,"c":"1.75","w":2850,"f":5.45},{"p":4,"c":"1.75","w":2950,"f":5.40},{"p":4,"c":"1.75","w":3050,"f":5.51},{"p":4,"c":"1.75","w":3150,"f":5.50},{"p":4,"c":"1.75","w":3250,"f":5.49},{"p":4,"c":"1.75","w":3350,"f":5.60},{"p":4,"c":"1.75","w":3450,"f":5.56},{"p":4,"c":"1.75","w":3550,"f":5.64},{"p":4,"c":"1.75","w":3650,"f":5.60},{"p":4,"c":"1.75","w":3727,"f":5.67},{"p":4,"c":"1.75","w":3800,"f":5.68},{"p":4,"c":"1.75","w":3850,"f":5.72},{"p":4,"c":"1.75","w":3890,"f":5.70},{"p":4,"c":"1.75","w":3934,"f":5.56},{"p":4,"c":"1.75","w":3950,"f":5.73},{"p":4,"c":"1.75","w":3968,"f":5.56},{"p":4,"c":"1.75","w":3990,"f":5.85},{"p":4,"c":"1.75","w":4050,"f":5.90},{"p":4,"c":"1.75","w":4150,"f":6.02},{"p":4,"c":"1.75","w":4250,"f":6.02},{"p":4,"c":"1.75","w":4300,"f":5.97},{"p":4,"c":"1.75","w":4350,"f":6.12},{"p":4,"c":"1.75","w":4450,"f":6.10},{"p":4,"c":"1.75","w":4600,"f":6.24},{"p":4,"c":"1.75","w":4750,"f":6.23},{"p":4,"c":"1.75","w":4861,"f":6.24},{"p":4,"c":"1.75","w":4950,"f":6.26},{"p":4,"c":"1.75","w":5050,"f":6.34},{"p":4,"c":"1.75","w":5175,"f":6.22},{"p":4,"c":"1.75","w":5300,"f":6.32},{"p":4,"c":"1.75","w":5450,"f":6.43},{"p":4,"c":"1.75","w":5600,"f":6.40},{"p":4,"c":"1.75","w":5720,"f":6.52},
{"p":4,"c":"1.65","w":2560,"f":3.77},{"p":4,"c":"1.65","w":2650,"f":3.86},{"p":4,"c":"1.65","w":2750,"f":3.82},{"p":4,"c":"1.65","w":2800,"f":3.84},{"p":4,"c":"1.65","w":2850,"f":3.86},{"p":4,"c":"1.65","w":2950,"f":3.94},{"p":4,"c":"1.65","w":3050,"f":3.90},{"p":4,"c":"1.65","w":3150,"f":3.96},{"p":4,"c":"1.65","w":3250,"f":4.01},{"p":4,"c":"1.65","w":3350,"f":3.98},{"p":4,"c":"1.65","w":3450,"f":4.06},{"p":4,"c":"1.65","w":3550,"f":4.05},{"p":4,"c":"1.65","w":3650,"f":4.14},{"p":4,"c":"1.65","w":3727,"f":4.09},{"p":4,"c":"1.65","w":3800,"f":4.18},{"p":4,"c":"1.65","w":3850,"f":4.11},{"p":4,"c":"1.65","w":3890,"f":4.23},{"p":4,"c":"1.65","w":3934,"f":4.02},{"p":4,"c":"1.65","w":3950,"f":4.13},{"p":4,"c":"1.65","w":3968,"f":4.06},{"p":4,"c":"1.65","w":3990,"f":4.28},{"p":4,"c":"1.65","w":4050,"f":4.43},{"p":4,"c":"1.65","w":4150,"f":4.42},{"p":4,"c":"1.65","w":4250,"f":4.54},{"p":4,"c":"1.65","w":4300,"f":4.45},{"p":4,"c":"1.65","w":4350,"f":4.54},{"p":4,"c":"1.65","w":4450,"f":4.67},{"p":4,"c":"1.65","w":4600,"f":4.69},{"p":4,"c":"1.65","w":4750,"f":4.78},{"p":4,"c":"1.65","w":4861,"f":4.67},{"p":4,"c":"1.65","w":4950,"f":4.79},{"p":4,"c":"1.65","w":5050,"f":4.76},{"p":4,"c":"1.65","w":5175,"f":4.71},{"p":4,"c":"1.65","w":5300,"f":4.87},{"p":4,"c":"1.65","w":5450,"f":4.86},{"p":4,"c":"1.65","w":5600,"f":4.98},{"p":4,"c":"1.65","w":5720,"f":4.98},
{"p":4,"c":"1.55","w":2560,"f":2.28},{"p":4,"c":"1.55","w":2650,"f":2.26},{"p":4,"c":"1.55","w":2750,"f":2.35},{"p":4,"c":"1.55","w":2800,"f":2.23},{"p":4,"c":"1.55","w":2850,"f":2.35},{"p":4,"c":"1.55","w":2950,"f":2.30},{"p":4,"c":"1.55","w":3050,"f":2.41},{"p":4,"c":"1.55","w":3150,"f":2.40},{"p":4,"c":"1.55","w":3250,"f":2.39},{"p":4,"c":"1.55","w":3350,"f":2.50},{"p":4,"c":"1.55","w":3450,"f":2.46},{"p":4,"c":"1.55","w":3550,"f":2.54},{"p":4,"c":"1.55","w":3650,"f":2.50},{"p":4,"c":"1.55","w":3727,"f":2.57},{"p":4,"c":"1.55","w":3800,"f":2.58},{"p":4,"c":"1.55","w":3850,"f":2.62},{"p":4,"c":"1.55","w":3890,"f":2.60},{"p":4,"c":"1.55","w":3934,"f":2.46},{"p":4,"c":"1.55","w":3950,"f":2.63},{"p":4,"c":"1.55","w":3968,"f":2.46},{"p":4,"c":"1.55","w":3990,"f":2.75},{"p":4,"c":"1.55","w":4050,"f":2.80},{"p":4,"c":"1.55","w":4150,"f":2.92},{"p":4,"c":"1.55","w":4250,"f":2.92},{"p":4,"c":"1.55","w":4300,"f":2.87},{"p":4,"c":"1.55","w":4350,"f":3.02},{"p":4,"c":"1.55","w":4450,"f":3.00},{"p":4,"c":"1.55","w":4600,"f":3.14},{"p":4,"c":"1.55","w":4750,"f":3.13},{"p":4,"c":"1.55","w":4861,"f":3.14},{"p":4,"c":"1.55","w":4950,"f":3.16},{"p":4,"c":"1.55","w":5050,"f":3.24},{"p":4,"c":"1.55","w":5175,"f":3.12},{"p":4,"c":"1.55","w":5300,"f":3.22},{"p":4,"c":"1.55","w":5450,"f":3.33},{"p":4,"c":"1.55","w":5600,"f":3.30},{"p":4,"c":"1.55","w":5720,"f":3.42},

{"p":1,"n":"N = 25","y":10.35},{"p":1,"n":"N = 16","y":8.7},{"p":1,"n":"N = 35","y":7.2},{"p":1,"n":"N = 43","y":5.9},{"p":1,"n":"N = 58","y":4.36},{"p":1,"n":"N = 53","y":3.06},
{"p":2,"n":"N = 147","y":10.35},{"p":2,"n":"N = 131","y":8.7},{"p":2,"n":"N = 207","y":7.2},{"p":2,"n":"N = 280","y":5.9},{"p":2,"n":"N = 313","y":4.36},{"p":2,"n":"N = 270","y":3.06},
{"p":3,"n":"N = 157","y":10.35},{"p":3,"n":"N = 167","y":8.8},{"p":3,"n":"N = 268","y":7.35},{"p":3,"n":"N = 310","y":5.95},{"p":3,"n":"N = 305","y":4.36},{"p":3,"n":"N = 202","y":2.9},
{"p":4,"n":"N = 118","y":10.35},{"p":4,"n":"N = 107","y":8.9},{"p":4,"n":"N = 176","y":7.35},{"p":4,"n":"N = 191","y":5.95},{"p":4,"n":"N = 160","y":4.4},{"p":4,"n":"N = 98","y":2.9},
{"p":1,"m":"10.8 < log(M*/1 M⊙) < 11.0"},{"p":2,"m":"11.0 < log(M*/1 M⊙) < 11.2"},{"p":3,"m":"11.2 < log(M*/1 M⊙) < 11.4"},{"p":4,"m":"11.4 < log(M*/1 M⊙) < 11.6"}
]},
"facet":{"column":{"field":"p","type":"ordinal","title":"Wavelength [Angstroms]","header":{"labels":false,"titleOrient":"bottom","titleFont":"Liberation Serif","titleFontSize":12,"titleFontWeight":"normal","titleColor":"#111","titlePadding":0}}},
"spacing":0,
"bounds":"flush",
"spec":{
"width":170,"height":183,
"layer":[
{"transform":[{"filter":"isValid(datum.r)"}],"mark":{"type":"rule","color":"#d6d6d6","strokeWidth":1.6},
 "encoding":{"x":{"field":"r","type":"quantitative","scale":{"domain":[2550,5720],"nice":false,"zero":false},"axis":{"title":null,"values":[3000,4000,5000],"format":"d","labelPadding":1}}}},
{"transform":[{"filter":"isValid(datum.f)"}],"mark":{"type":"line","strokeWidth":1.1},
 "encoding":{"x":{"field":"w","type":"quantitative","axis":{"title":null,"values":[3000,4000,5000],"format":"d","labelPadding":1}},
 "y":{"field":"f","type":"quantitative","scale":{"domain":[0,11.15],"nice":false,"zero":false},"axis":{"title":"Flux [A.U.]","values":[0,1,2,3,4,5,6,7,8,9,10,11],"titlePadding":2,"labelPadding":1}},
 "color":{"field":"c","type":"nominal","scale":{"domain":[">2","1.95","1.85","1.75","1.65","1.55"],"range":["#7f3b08","#e08214","#fdd9a8","#d8daeb","#8073ac","#2d004b"]},"legend":null},
 "detail":{"field":"c"}}},
{"transform":[{"filter":"isValid(datum.n)"}],"mark":{"type":"text","align":"left","baseline":"middle","font":"Liberation Serif","fontSize":9.5,"color":"#222"},
 "encoding":{"x":{"datum":2810,"type":"quantitative"},"y":{"field":"y","type":"quantitative","axis":{"title":"Flux [A.U.]","values":[0,1,2,3,4,5,6,7,8,9,10,11],"titlePadding":2,"labelPadding":1}},"text":{"field":"n"}}},
{"transform":[{"filter":"isValid(datum.m)"}],"mark":{"type":"text","align":"center","baseline":"middle","font":"Liberation Serif","fontSize":12,"color":"#111"},
 "encoding":{"x":{"datum":4135,"type":"quantitative"},"y":{"datum":1.1,"type":"quantitative","axis":{"title":"Flux [A.U.]","values":[0,1,2,3,4,5,6,7,8,9,10,11],"titlePadding":2,"labelPadding":1}},"text":{"field":"m"}}}
]}
},
{
"width":23,"height":183,
"view":{"stroke":null},
"data":{"values":[{"c":"1.55","lo":0,"hi":1},{"c":"1.65","lo":1,"hi":2},{"c":"1.75","lo":2,"hi":3},{"c":"1.85","lo":3,"hi":4},{"c":"1.95","lo":4,"hi":5},{"c":">2","lo":5,"hi":6}]},
"encoding":{"x":{"datum":0,"type":"quantitative","scale":{"domain":[0,1],"nice":false,"zero":false},"axis":null},"x2":{"datum":1}},
"layer":[
{"mark":{"type":"rect","stroke":"#444","strokeWidth":0.8},
 "encoding":{"y":{"field":"lo","type":"quantitative","scale":{"domain":[-0.4,6.38],"nice":false,"zero":false},"axis":{"orient":"right","values":[0.5,1.5,2.5,3.5,4.5,5.5],"labelExpr":"['1.55','1.65','1.75','1.85','1.95','>2'][floor(datum.value)]","title":null,"domain":false,"tickSize":2,"labelPadding":1}},
 "y2":{"field":"hi"},
 "color":{"field":"c","type":"nominal","scale":{"domain":[">2","1.95","1.85","1.75","1.65","1.55"],"range":["#7f3b08","#e08214","#fee0b6","#d8daeb","#8073ac","#2d004b"]},"legend":null}}},
{"mark":{"type":"rect","opacity":0},
 "encoding":{"y":{"field":"lo","type":"quantitative","axis":{"orient":"left","title":"Dₙ4000","titleFont":"DejaVu Serif","labels":false,"ticks":false,"domain":false,"titleFontSize":13,"titlePadding":2}},"y2":{"field":"hi"}}}
],
"resolve":{"axis":{"y":"independent"}}
}
]
}
